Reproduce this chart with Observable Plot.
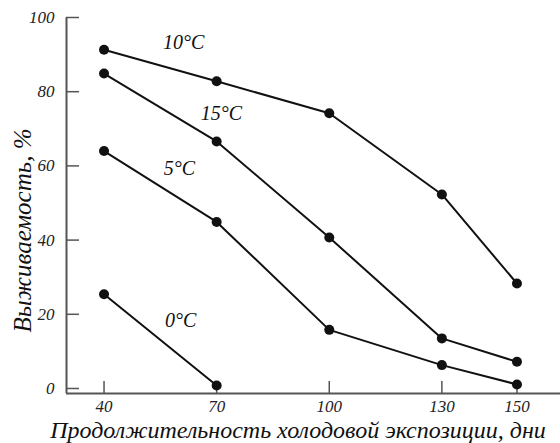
<!DOCTYPE html>
<html>
<head>
<meta charset="utf-8">
<script src="https://cdn.jsdelivr.net/npm/d3@7"></script>
<script src="https://cdn.jsdelivr.net/npm/@observablehq/plot@0.6"></script>
<style>
  html, body { margin: 0; padding: 0; background: #fff; }
</style>
</head>
<body>
<div id="chart"></div>
<script>
const days = [40, 70, 100, 130, 150];
const t10 = [91.3, 82.8, 74.2, 52.3, 28.3];
const t15 = [84.9, 66.6, 40.7, 13.5, 7.2];
const t5  = [64.0, 44.9, 15.8, 6.3, 1.1];
const t0  = [25.4, 0.8];
const seriesNames = ["10°C", "15°C", "5°C", "0°C"];
const seriesValues = [t10, t15, t5, t0];
const labelX = [61.2, 71.3, 60.1, 60.4];
const labelY = [93.3, 74.1, 59.3, 18.3];
const xTicks = [40, 70, 100, 130, 150];
const yTicks = [0, 20, 40, 60, 80, 100];
const xTitle = "Продолжительность холодовой экспозиции, дни";
const yTitle = "Выживаемость, %";

const rows = [];
seriesNames.forEach((s, i) => {
  seriesValues[i].forEach((v, j) => rows.push({series: s, day: days[j], value: v}));
});
const labels = seriesNames.map((s, i) => ({name: s, x: labelX[i], y: labelY[i]}));

const W = 560, H = 443, mL = 66, mT = 17, mB = 50, mR = 0;
const frameW = W - mL - mR, frameH = H - mT - mB;
const font = "Liberation Serif";

const chart = Plot.plot({
  width: W, height: H,
  marginLeft: mL, marginTop: mT, marginBottom: mB, marginRight: mR,
  style: "font-family: 'Liberation Serif', serif; font-style: italic; font-size: 17px; color: #222; background: #fff",
  x: {type: "linear", domain: [30, 161.6]},
  y: {type: "linear", domain: [-1.35, 100]},
  marks: [
    Plot.ruleY([-1.35], {stroke: "#555", strokeWidth: 2}),
    Plot.ruleX([30], {stroke: "#555", strokeWidth: 2}),
    Plot.tickX(xTicks, {x: d => d, stroke: "#555", strokeWidth: 1.5, insetTop: frameH - 12}),
    Plot.tickY(yTicks, {y: d => d, stroke: "#555", strokeWidth: 1.5, insetRight: frameW - 13}),
    Plot.axisX({ticks: xTicks, tickSize: 0, tickPadding: 6, label: null, fontSize: 17, fontFamily: font, tickFormat: d => String(d)}),
    Plot.axisY({ticks: yTicks, tickSize: 0, tickPadding: 12, label: null, fontSize: 17, fontFamily: font, tickFormat: d => String(d)}),
    Plot.line(rows, {x: "day", y: "value", z: "series", stroke: "#111", strokeWidth: 2}),
    Plot.dot(rows, {x: "day", y: "value", r: 5, fill: "#111", stroke: "none"}),
    Plot.text(labels, {x: "x", y: "y", text: "name", fontSize: 20, fontFamily: font, fill: "#111", textAnchor: "middle", lineAnchor: "middle"}),
    Plot.text([xTitle], {frameAnchor: "bottom", textAnchor: "middle", dy: 37, dx: -15.5, fontSize: 24, fontFamily: font, fill: "#111", lineAnchor: "middle"}),
    Plot.text([yTitle], {frameAnchor: "left", textAnchor: "middle", rotate: -90, dx: -44, dy: 25, fontSize: 25, fontFamily: font, fill: "#111", lineAnchor: "middle"})
  ]
});
document.getElementById("chart").appendChild(chart);
</script>
</body>
</html>
